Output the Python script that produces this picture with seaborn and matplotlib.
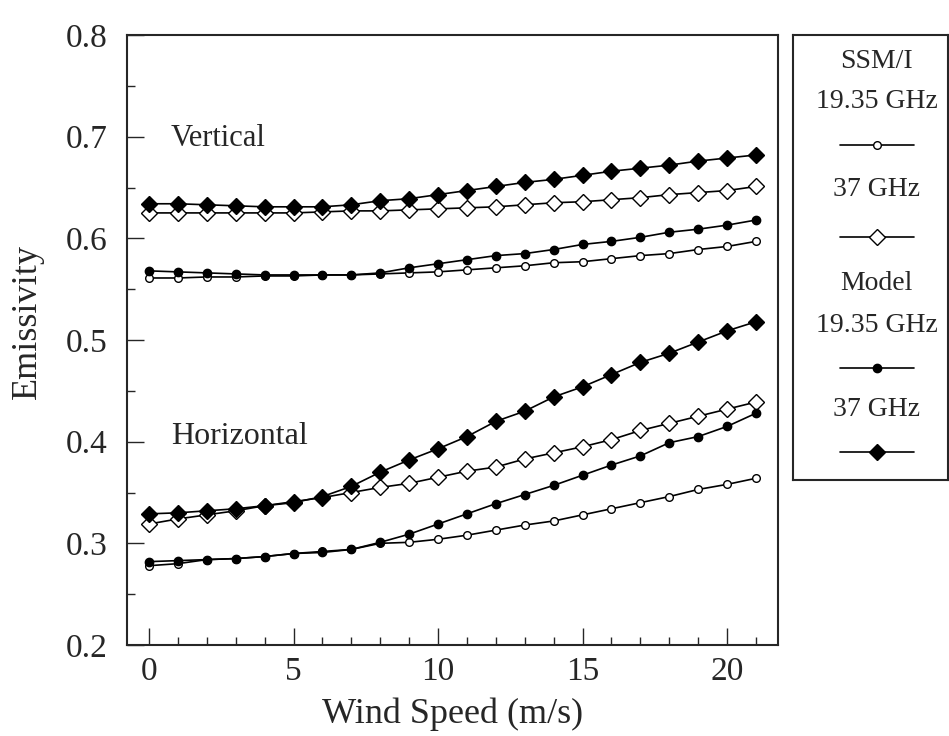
import numpy as np
import pandas as pd
import matplotlib
matplotlib.use("Agg")
import matplotlib.pyplot as plt
from matplotlib.ticker import MultipleLocator
import seaborn as sns

# Wind speed (m/s)
wind = list(range(22))

# Vertical polarisation
v_ssmi_19 = [0.561, 0.561, 0.562, 0.562, 0.563, 0.563, 0.564, 0.564, 0.565, 0.566, 0.567,
             0.569, 0.571, 0.573, 0.576, 0.577, 0.580, 0.583, 0.585, 0.589, 0.592, 0.597]
v_ssmi_37 = [0.625, 0.625, 0.625, 0.625, 0.625, 0.625, 0.626, 0.627, 0.627, 0.628, 0.629,
             0.630, 0.631, 0.633, 0.635, 0.636, 0.638, 0.640, 0.643, 0.645, 0.647, 0.651]
v_model_19 = [0.568, 0.567, 0.566, 0.565, 0.564, 0.564, 0.564, 0.564, 0.566, 0.571, 0.575,
              0.579, 0.583, 0.585, 0.589, 0.594, 0.597, 0.601, 0.606, 0.609, 0.613, 0.618]
v_model_37 = [0.634, 0.634, 0.633, 0.632, 0.631, 0.631, 0.631, 0.633, 0.637, 0.639, 0.643,
              0.647, 0.651, 0.655, 0.658, 0.662, 0.666, 0.669, 0.672, 0.676, 0.679, 0.682]

# Horizontal polarisation
h_ssmi_19 = [0.278, 0.280, 0.284, 0.285, 0.287, 0.290, 0.292, 0.294, 0.300, 0.301, 0.304,
             0.308, 0.313, 0.318, 0.322, 0.328, 0.334, 0.340, 0.346, 0.353, 0.358, 0.364]
h_ssmi_37 = [0.319, 0.324, 0.328, 0.332, 0.337, 0.341, 0.345, 0.350, 0.355, 0.359, 0.365,
             0.371, 0.375, 0.383, 0.389, 0.395, 0.402, 0.411, 0.418, 0.425, 0.432, 0.439]
h_model_19 = [0.282, 0.283, 0.284, 0.285, 0.287, 0.290, 0.291, 0.294, 0.301, 0.309, 0.319,
              0.329, 0.339, 0.348, 0.357, 0.367, 0.377, 0.386, 0.399, 0.405, 0.415, 0.428]
h_model_37 = [0.329, 0.330, 0.332, 0.334, 0.337, 0.340, 0.346, 0.356, 0.370, 0.382, 0.393,
              0.405, 0.420, 0.430, 0.444, 0.454, 0.466, 0.478, 0.487, 0.498, 0.509, 0.518]

legend_lines = [["SSM/I", "19.35 GHz"], ["37 GHz"], ["Model", "19.35 GHz"], ["37 GHz"]]

sns.set_style("ticks")
plt.rcParams["font.family"] = ["Liberation Serif", "DejaVu Serif"]

fig = plt.figure(figsize=(9.49, 7.36), dpi=100)
ax = fig.add_axes([127 / 949, 1 - 645 / 736, 651 / 949, 610 / 736])

# marker styles: (marker, size, facecolor)
styles = [("o", 5.5, "white"), ("D", 8, "white"), ("o", 6, "black"), ("D", 8, "black")]
groups = [[v_ssmi_19, h_ssmi_19], [v_ssmi_37, h_ssmi_37],
          [v_model_19, h_model_19], [v_model_37, h_model_37]]

for (mk, ms, fc), series in zip(styles, groups):
    for vals in series:
        sns.lineplot(x=wind, y=vals, ax=ax, color="black", lw=1.2, marker=mk,
                     markersize=ms, markerfacecolor=fc, markeredgecolor="black",
                     markeredgewidth=1.0)

ax.set_xlim(-0.76, 21.76)
ax.set_ylim(0.2, 0.8)
ax.xaxis.set_major_locator(MultipleLocator(5))
ax.xaxis.set_minor_locator(MultipleLocator(1))
ax.yaxis.set_major_locator(MultipleLocator(0.1))
ax.yaxis.set_minor_locator(MultipleLocator(0.05))
ax.yaxis.set_major_formatter(plt.FuncFormatter(lambda v, p: f"{v:.1f}"))
ax.tick_params(which="both", direction="in", labelsize=24, width=1.0)
ax.tick_params(axis="y", pad=14)
ax.tick_params(axis="x", pad=8)
ax.tick_params(which="major", length=12)
ax.tick_params(which="minor", length=6)
for s in ax.spines.values():
    s.set_linewidth(1.5)

ax.set_xlabel("Wind Speed (m/s)", fontsize=26, labelpad=8)
ax.set_ylabel("Emissivity", fontsize=26)
ax.yaxis.set_label_coords(-0.128, 0.53)

ax.text(0.75, 0.698, "Vertical", fontsize=22, va="center", ha="left")
ax.text(0.75, 0.405, "Horizontal", fontsize=23, va="center", ha="left")

# legend box drawn as its own panel
lax = fig.add_axes([793 / 949, 1 - 480 / 736, 155 / 949, 445 / 736])
lax.set_xticks([])
lax.set_yticks([])
for s in lax.spines.values():
    s.set_linewidth(1.5)
lax.set_xlim(0, 1)
lax.set_ylim(0, 1)

# rows in pixels from figure top: text rows then key row per entry
text_rows = [[61, 101], [190], [283, 325], [410]]
key_rows = [145, 237, 368, 452]
for lines, trow, krow, (mk, ms, fc) in zip(legend_lines, text_rows, key_rows, styles):
    for line, py in zip(lines, trow):
        lax.text(0.54, (480 - py) / 445, line, ha="center", va="center", fontsize=20)
    ky = (480 - krow) / 445
    lax.plot([0.3, 0.54, 0.78], [ky, ky, ky], color="black", lw=1.2, marker=mk,
             markersize=ms, markerfacecolor=fc, markeredgecolor="black", markevery=[1])

fig.savefig("out.png", dpi=100)
